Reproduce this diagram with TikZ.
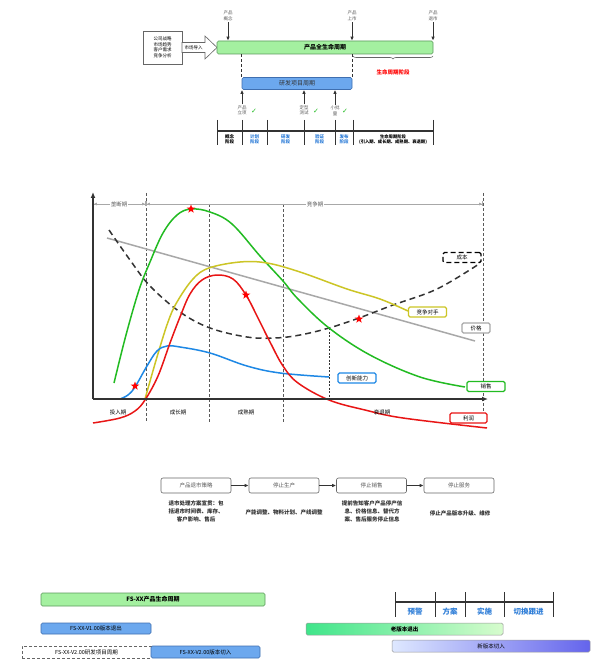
\documentclass[tikz,border=0pt]{standalone}
\usepackage{fontspec}
\setmainfont{Noto Sans CJK SC}
\newfontfamily\dejavu{DejaVu Sans}
\usetikzlibrary{arrows.meta,shapes.geometric,decorations.pathreplacing}
\definecolor{cgreen}{HTML}{22BB22}
\definecolor{cred}{HTML}{E81515}
\definecolor{cyellow}{HTML}{CCC526}
\definecolor{cblue}{HTML}{1E88E5}
\definecolor{cgray}{HTML}{A8A8A8}
\definecolor{barg}{HTML}{A4F0A0}
\definecolor{bargd}{HTML}{5C9A5C}
\definecolor{barb}{HTML}{6CA8EE}
\definecolor{barbd}{HTML}{3F6FB0}
\definecolor{tblue}{HTML}{2F7ED8}
\definecolor{dk}{HTML}{333333}
\definecolor{oldl}{HTML}{3FE58A}
\definecolor{oldr}{HTML}{D7FCCD}
\definecolor{newl}{HTML}{DEE8FF}
\definecolor{newr}{HTML}{6464EC}
\tikzset{
  tiny/.style={font=\fontsize{4.5}{5.5}\selectfont},
  small/.style={font=\fontsize{5.5}{6.5}\selectfont},
  gbar/.style={draw=bargd, fill=barg, line width=0.6pt, rounded corners=1.5pt, inner sep=0pt},
  bbar/.style={draw=barbd, fill=barb, line width=0.6pt, rounded corners=1.5pt, inner sep=0pt},
  arr/.style={-{Latex[length=4pt,width=3.5pt]}, line width=0.8pt, dk},
  keybox/.style={draw, fill=white, line width=1.1pt, rounded corners=1.5pt, minimum width=38pt, minimum height=10pt, inner sep=0pt, font=\fontsize{5.5}{6.5}\selectfont},
  curve/.style={line width=1.5pt},
  vdash/.style={dashed, dash pattern=on 3pt off 2pt, line width=0.5pt, gray!70!black},
  redstar/.style={star, star points=5, star point ratio=2.4, fill=red, draw=none, minimum size=9pt, inner sep=0pt},
  procbox/.style={draw=gray!80!black, line width=0.6pt, rounded corners=2pt, minimum width=70pt, minimum height=15pt, inner sep=0pt, text=gray!70!black, font=\fontsize{5.5}{6.5}\selectfont},
  desc/.style={align=center, font=\fontsize{5.5}{8}\selectfont\bfseries, text=dk},
  stage/.style={align=center, inner sep=0pt, font=\fontsize{4.5}{5.5}\selectfont\bfseries},
  chk/.style={text=cgreen, font=\dejavu\fontsize{7}{7}\selectfont, inner sep=0pt},
}
\begin{document}
\begin{tikzpicture}[x=1pt,y=-1pt]
\useasboundingbox (0,0) rectangle (600,668);
\fill[white] (0,0) rectangle (600,668);

%% ---------------- top section ----------------
\node[draw=gray!80!black, line width=0.6pt, minimum width=39pt, minimum height=33pt, align=center, tiny, inner sep=0pt] (strat) at (162.5,47.5) {公司战略\\市场趋势\\客户需求\\竞争分析};
\draw[gray!80!black, fill=white, line width=0.6pt] (182,42.5) -- (205,42.5) -- (205,36) -- (217,47.5) -- (205,59) -- (205,52.5) -- (182,52.5) -- cycle;
\node[tiny, inner sep=0pt] (imp) at (193.5,47.5) {市场导入};
\node[gbar, minimum width=216pt, minimum height=13pt, font=\fontsize{6}{7}\selectfont\bfseries] (plc) at (325,47.5) {产品全生命周期};

\node[tiny, align=center, text=gray!70!black, inner sep=1pt] (m1) at (228,16) {产品\\概念};
\node[tiny, align=center, text=gray!70!black, inner sep=1pt] (m2) at (352,16) {产品\\上市};
\node[tiny, align=center, text=gray!70!black, inner sep=1pt] (m3) at (433,16) {产品\\退市};
\draw[arr] (m1.south) -- (m1.south |- plc.north);
\draw[arr] (m2.south) -- (m2.south |- plc.north);
\draw[arr] (m3.south) -- (m3.south |- plc.north);

\draw[decorate, decoration={brace, mirror, amplitude=3pt}, gray!80!black, line width=0.6pt] (353,56) -- (433,56);
\node[text=red, font=\fontsize{5.5}{6.5}\selectfont\bfseries] (lcs) at (393,72) {生命周期阶段};

\node[bbar, minimum width=110pt, minimum height=12pt, font=\fontsize{6}{7}\selectfont, text=dk] (rd) at (297,83.5) {研发项目周期};
\draw[dashed, dash pattern=on 3pt off 2pt, dk, line width=0.6pt] (plc.south -| rd.west) -- (rd.north west);
\draw[dashed, dash pattern=on 3pt off 2pt, dk, line width=0.6pt] (plc.south -| rd.east) -- (rd.north east);

\node[tiny, align=center, text=gray!70!black, inner sep=1pt] (u1) at (242,110.5) {产品\\立项};
\node[tiny, align=center, text=gray!70!black, inner sep=1pt] (u2) at (304,110.5) {定型\\测试};
\node[tiny, align=center, text=gray!70!black, inner sep=1pt] (u3) at (335,110.5) {小批\\量};
\draw[arr] (u1.north) -- (u1.north |- rd.south);
\draw[arr] (u2.north) -- (u2.north |- rd.south);
\draw[arr] (u3.north) -- (u3.north |- rd.south);
\node[chk] (c1) at (254,111) {✓};
\node[chk] (c2) at (316,111) {✓};
\node[chk] (c3) at (345,111) {✓};

\draw[line width=1.2pt, dk] (217,131) -- (433,131);
\foreach \x in {217,242,267,304,335,353,433} \draw[line width=1pt, dk] (\x,120) -- (\x,145);
\node[stage] (s1) at (229.5,139.5) {概念\\阶段};
\node[stage, text=tblue] (s2) at (254.5,139.5) {计划\\阶段};
\node[stage, text=tblue] (s3) at (285.5,139.5) {研发\\阶段};
\node[stage, text=tblue] (s4) at (319.5,139.5) {验证\\阶段};
\node[stage, text=tblue] (s5) at (344,139.5) {发布\\阶段};
\node[stage, font=\fontsize{4.3}{5.5}\selectfont\bfseries] (s6) at (393,139.5) {生命周期阶段\\(引入期、成长期、成熟期、衰退期)};

%% ---------------- chart ----------------
\draw[vdash] (146,193) -- (146,422);
\draw[vdash] (209,204) -- (209,422);
\draw[vdash] (283,204) -- (283,422);
\draw[vdash] (483,193) -- (483,422);
\draw[dashed, dash pattern=on 2pt off 1.5pt, line width=0.5pt, dk] (329,328) -- (329,399);

\draw[cgray, line width=0.8pt, {Bar[width=5pt]Latex[length=3pt,width=3pt]}-{Latex[length=3pt,width=3pt]Bar[width=5pt]}] (93,204) -- (146,204);
\draw[cgray, line width=0.8pt, {Bar[width=5pt]Latex[length=3pt,width=3pt]}-{Latex[length=3pt,width=3pt]Bar[width=5pt]}] (146,204) -- (483,204);
\node[small, fill=white, inner sep=0.5pt, text=gray!70!black] (mono) at (119,204) {垄断期};
\node[small, fill=white, inner sep=0.5pt, text=gray!70!black] (comp) at (315,204) {竞争期};

% price line
\draw[cgray, curve] (107,238) -- (475,341);
% cost
\draw[dk, line width=1.5pt, dash pattern=on 6pt off 4pt] plot[smooth, tension=0.6] coordinates {(109,230) (130,260) (150,286) (180,312) (210,328) (247,337) (275,338) (300,335) (329,328) (359,318) (393,305) (437,289) (479,264)};
% sales
\draw[cgreen, curve] plot[smooth, tension=0.6] coordinates {(114,383) (126,335) (139,290) (150,262) (163,233) (177,215) (191,209) (210,212) (232,224) (260,256) (283,281) (298,299) (329,328) (370,355) (420,377) (465,387)};
% competitor
\draw[cyellow, curve] plot[smooth, tension=0.6] coordinates {(145,399) (157,357) (168,322) (177,302) (193,279) (209,268) (240,262) (267,263) (300,272) (347,289) (380,299) (408,311)};
% innovation
\draw[cblue, curve] plot[smooth, tension=0.6] coordinates {(120,399) (128,395) (135,387) (147,366) (157,351) (167,346) (180,347) (210,353) (247,366) (280,373) (329,377)};
% profit
\draw[cred, curve] plot[smooth, tension=0.6] coordinates {(93,423) (120,418) (135,411) (145,400) (158,376) (170,343) (180,317) (190,294) (202,280) (217,275) (233,279) (246,295) (258,318) (270,342) (283,366) (298,383) (329,400) (365,410) (403,418) (487,428)};

\draw[dk, line width=1.5pt, -{Latex[length=6pt,width=5pt]}] (93,399) -- (93,192);
\draw[dk, line width=1.5pt, -{Latex[length=6pt,width=5pt]}] (93,399) -- (488,399);

\node[redstar] (st1) at (191,209) {};
\node[redstar] (st2) at (246,295) {};
\node[redstar] (st3) at (359,319) {};
\node[redstar] (st4) at (135,386) {};

\node[keybox, dash pattern=on 5pt off 3pt, draw=black, line width=1.4pt] (kcost) at (462,257.5) {成本};
\node[keybox, draw=cyellow] (kcomp) at (427.5,312) {竞争对手};
\node[keybox, draw=cgray, minimum width=28pt] (kprice) at (476,328) {价格};
\node[keybox, draw=cblue] (kinno) at (357,378) {创新能力};
\node[keybox, draw=cgreen] (ksale) at (486,386.5) {销售};
\node[keybox, draw=cred, minimum width=37pt] (kprof) at (468.5,418) {利润};

\node[small] (ph1) at (118,412) {投入期};
\node[small] (ph2) at (178,412) {成长期};
\node[small] (ph3) at (246,412) {成熟期};
\node[small] (ph4) at (382,412) {衰退期};

%% ---------------- process ----------------
\node[procbox] (p1) at (196,485.5) {产品退市策略};
\node[procbox] (p2) at (284,485.5) {停止生产};
\node[procbox] (p3) at (371.5,485.5) {停止销售};
\node[procbox] (p4) at (459,485.5) {停止服务};
\draw[arr] (p1) -- (p2);
\draw[arr] (p2) -- (p3);
\draw[arr] (p3) -- (p4);
\node[desc] (d1) at (196,511) {退市处理方案宣贯：包\\括退市时间表、库存、\\客户影响、售后};
\node[desc] (d2) at (284,512) {产能调整、物料计划、产线调整};
\node[desc] (d3) at (372,511) {提前告知客户产品停产信\\息、价格信息、替代方\\案、售后服务停止信息};
\node[desc] (d4) at (460,513) {停止产品版本升级、维修};

%% ---------------- bottom ----------------
\node[gbar, minimum width=224pt, minimum height=13pt, font=\fontsize{6}{7}\selectfont\bfseries] (fs) at (153,599.5) {FS-XX产品生命周期};
\node[bbar, minimum width=110pt, minimum height=11pt, font=\fontsize{5.5}{6.5}\selectfont] (v1) at (96,628.5) {FS-XX-V1.00版本退出};
\node[draw=gray!80!black, dashed, dash pattern=on 3pt off 2pt, line width=0.6pt, fill=white, minimum width=129pt, minimum height=12pt, inner sep=0pt, font=\fontsize{5.5}{6.5}\selectfont] (v2d) at (86.5,652) {FS-XX-V2.00研发项目周期};
\node[bbar, minimum width=109pt, minimum height=12pt, font=\fontsize{5.5}{6.5}\selectfont] (v2) at (205.5,652) {FS-XX-V2.00版本切入};

\draw[line width=1.2pt, dk] (395,602) -- (553,602);
\foreach \x in {395,435,465,504,553} \draw[line width=1pt, dk] (\x,592) -- (\x,617);
\node[text=tblue, font=\fontsize{7.5}{8}\selectfont\bfseries] (w1) at (415,612) {预警};
\node[text=tblue, font=\fontsize{7.5}{8}\selectfont\bfseries] (w2) at (450,612) {方案};
\node[text=tblue, font=\fontsize{7.5}{8}\selectfont\bfseries] (w3) at (484.5,612) {实施};
\node[text=tblue, font=\fontsize{7.5}{8}\selectfont\bfseries] (w4) at (528.5,612) {切换跟进};

\node[draw=gray!80, line width=0.5pt, rounded corners=1.5pt, left color=oldl, right color=oldr, minimum width=197pt, minimum height=12pt, inner sep=0pt, font=\fontsize{5.5}{6.5}\selectfont\bfseries] (old) at (404.5,629) {老版本退出};
\node[draw=gray!80, line width=0.5pt, rounded corners=1.5pt, left color=newl, right color=newr, minimum width=198pt, minimum height=12pt, inner sep=0pt, font=\fontsize{5.5}{6.5}\selectfont] (new) at (491,646) {新版本切入};
\end{tikzpicture}
\end{document}
